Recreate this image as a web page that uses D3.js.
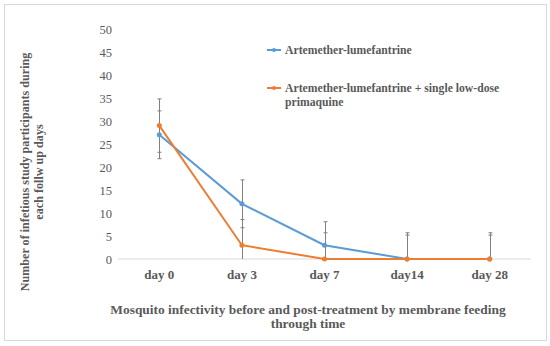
<!DOCTYPE html>
<html><head><meta charset="utf-8">
<script src="https://cdn.jsdelivr.net/npm/d3@7"></script>
<style>html,body{margin:0;padding:0;background:#fff;}</style>
</head><body>
<svg id="c" width="550" height="346"></svg>
<script>
const categories = ["day 0", "day 3", "day 7", "day14", "day 28"];
const seriesNames = ["Artemether-lumefantrine", "Artemether-lumefantrine + single low-dose primaquine"];
const alValues = [27, 12, 3, 0, 0];
const alErrors = [5.2, 5.2, 5.1, 5.2, 5.2];
const alPqValues = [29, 3, 0, 0, 0];
const alPqErrors = [5.8, 5.6, 5.7, 5.7, 5.7];
const yTicks = [0, 5, 10, 15, 20, 25, 30, 35, 40, 45, 50];
const colors = ["#5b9bd5", "#ed7d31"];

const svg = d3.select("#c");
const font = "'Liberation Serif', 'DejaVu Serif', serif";
const txt = "#595959";

// scale a text's font size so its width matches the target
function fit(sel, target) {
  sel.attr("font-size", 12);
  const w = sel.node().getComputedTextLength();
  if (w > 0) sel.attr("font-size", 12 * target / w);
  return sel;
}

svg.append("rect").attr("x", 4.5).attr("y", 4.5).attr("width", 542).attr("height", 336)
  .attr("fill", "#fff").attr("stroke", "#d9d9d9");

const x = d3.scaleBand().domain(categories).range([118, 531]);
const y = d3.scaleLinear().domain([0, 50]).range([259, 29]);

svg.append("line").attr("x1", 118).attr("x2", 531).attr("y1", y(0)).attr("y2", y(0))
  .attr("stroke", "#d9d9d9").attr("stroke-width", 1);

const yAxis = d3.axisLeft(y).tickValues(yTicks).tickSize(0).tickPadding(0);
const gy = svg.append("g").attr("transform", "translate(112,0)").call(yAxis);
gy.select(".domain").remove();
gy.selectAll("text").attr("font-family", font).attr("font-size", 12.5).attr("fill", txt);

const xAxis = d3.axisBottom(x).tickSize(0).tickPadding(0);
const gx = svg.append("g").attr("transform", "translate(0,270)").call(xAxis);
gx.select(".domain").remove();
gx.selectAll("text").attr("font-family", font).attr("font-size", 13).attr("font-weight", "bold").attr("fill", txt);

const cx = d => x(d) + x.bandwidth() / 2;

const series = [
  {vals: alValues, errs: alErrors, color: colors[0]},
  {vals: alPqValues, errs: alPqErrors, color: colors[1]}
];
const eb = svg.append("g").attr("stroke", "#808080").attr("stroke-width", 1);
series.forEach(s => {
  categories.forEach((c, i) => {
    const hi = s.vals[i] + s.errs[i];
    const lo = Math.max(0, s.vals[i] - s.errs[i]);
    const px = Math.round(cx(c)) + 0.5;
    eb.append("line").attr("x1", px).attr("x2", px).attr("y1", y(hi)).attr("y2", y(lo));
    eb.append("line").attr("x1", px - 2).attr("x2", px + 2).attr("y1", y(hi)).attr("y2", y(hi));
    if (s.vals[i] - s.errs[i] >= 0)
      eb.append("line").attr("x1", px - 2).attr("x2", px + 2).attr("y1", y(lo)).attr("y2", y(lo));
  });
});

const line = d3.line().x((d, i) => cx(categories[i])).y(d => y(d));
series.forEach(s => {
  svg.append("path").datum(s.vals).attr("d", line).attr("fill", "none")
    .attr("stroke", s.color).attr("stroke-width", 2);
  svg.append("g").selectAll("circle").data(s.vals).join("circle")
    .attr("cx", (d, i) => cx(categories[i])).attr("cy", d => y(d)).attr("r", 2.5)
    .attr("fill", s.color);
});

// legend
const legY = [50, 88];
let legSize = 12;
seriesNames.forEach((n, i) => {
  const g = svg.append("g");
  g.append("line").attr("x1", 267).attr("x2", 281).attr("y1", legY[i]).attr("y2", legY[i])
    .attr("stroke", colors[i]).attr("stroke-width", 2);
  g.append("circle").attr("cx", 274).attr("cy", legY[i]).attr("r", 2).attr("fill", colors[i]);
  const t = g.append("text").attr("x", 285).attr("y", legY[i]).attr("dy", "0.35em")
    .attr("font-family", font).attr("font-weight", "bold").attr("fill", txt);
  if (i === 0) {
    t.text(n);
    fit(t, 127);
    legSize = +t.attr("font-size");
  } else {
    t.attr("font-size", legSize);
    t.append("tspan").attr("x", 285).text("Artemether-lumefantrine + single low-dose");
    t.append("tspan").attr("x", 285).attr("dy", 14).text("primaquine");
  }
});

// x title
const xt1 = svg.append("text").attr("x", 308).attr("y", 314).attr("font-family", font)
  .attr("font-weight", "bold").attr("fill", txt).attr("text-anchor", "middle")
  .text("Mosquito infectivity before and post-treatment by membrane feeding");
fit(xt1, 396);
svg.append("text").attr("x", 308).attr("y", 328).attr("font-family", font)
  .attr("font-size", xt1.attr("font-size"))
  .attr("font-weight", "bold").attr("fill", txt).attr("text-anchor", "middle")
  .text("through time");

// y title
const yg = svg.append("g").attr("transform", "translate(0,172) rotate(-90)");
const yt1 = yg.append("text").attr("x", 0).attr("y", 29).attr("font-family", font)
  .attr("font-weight", "bold").attr("fill", txt).attr("text-anchor", "middle")
  .text("Number of infetious study participants during");
fit(yt1, 239);
yg.append("text").attr("x", 0).attr("y", 43).attr("font-family", font)
  .attr("font-size", yt1.attr("font-size"))
  .attr("font-weight", "bold").attr("fill", txt).attr("text-anchor", "middle")
  .text("each follw up days");
</script>
</body></html>
